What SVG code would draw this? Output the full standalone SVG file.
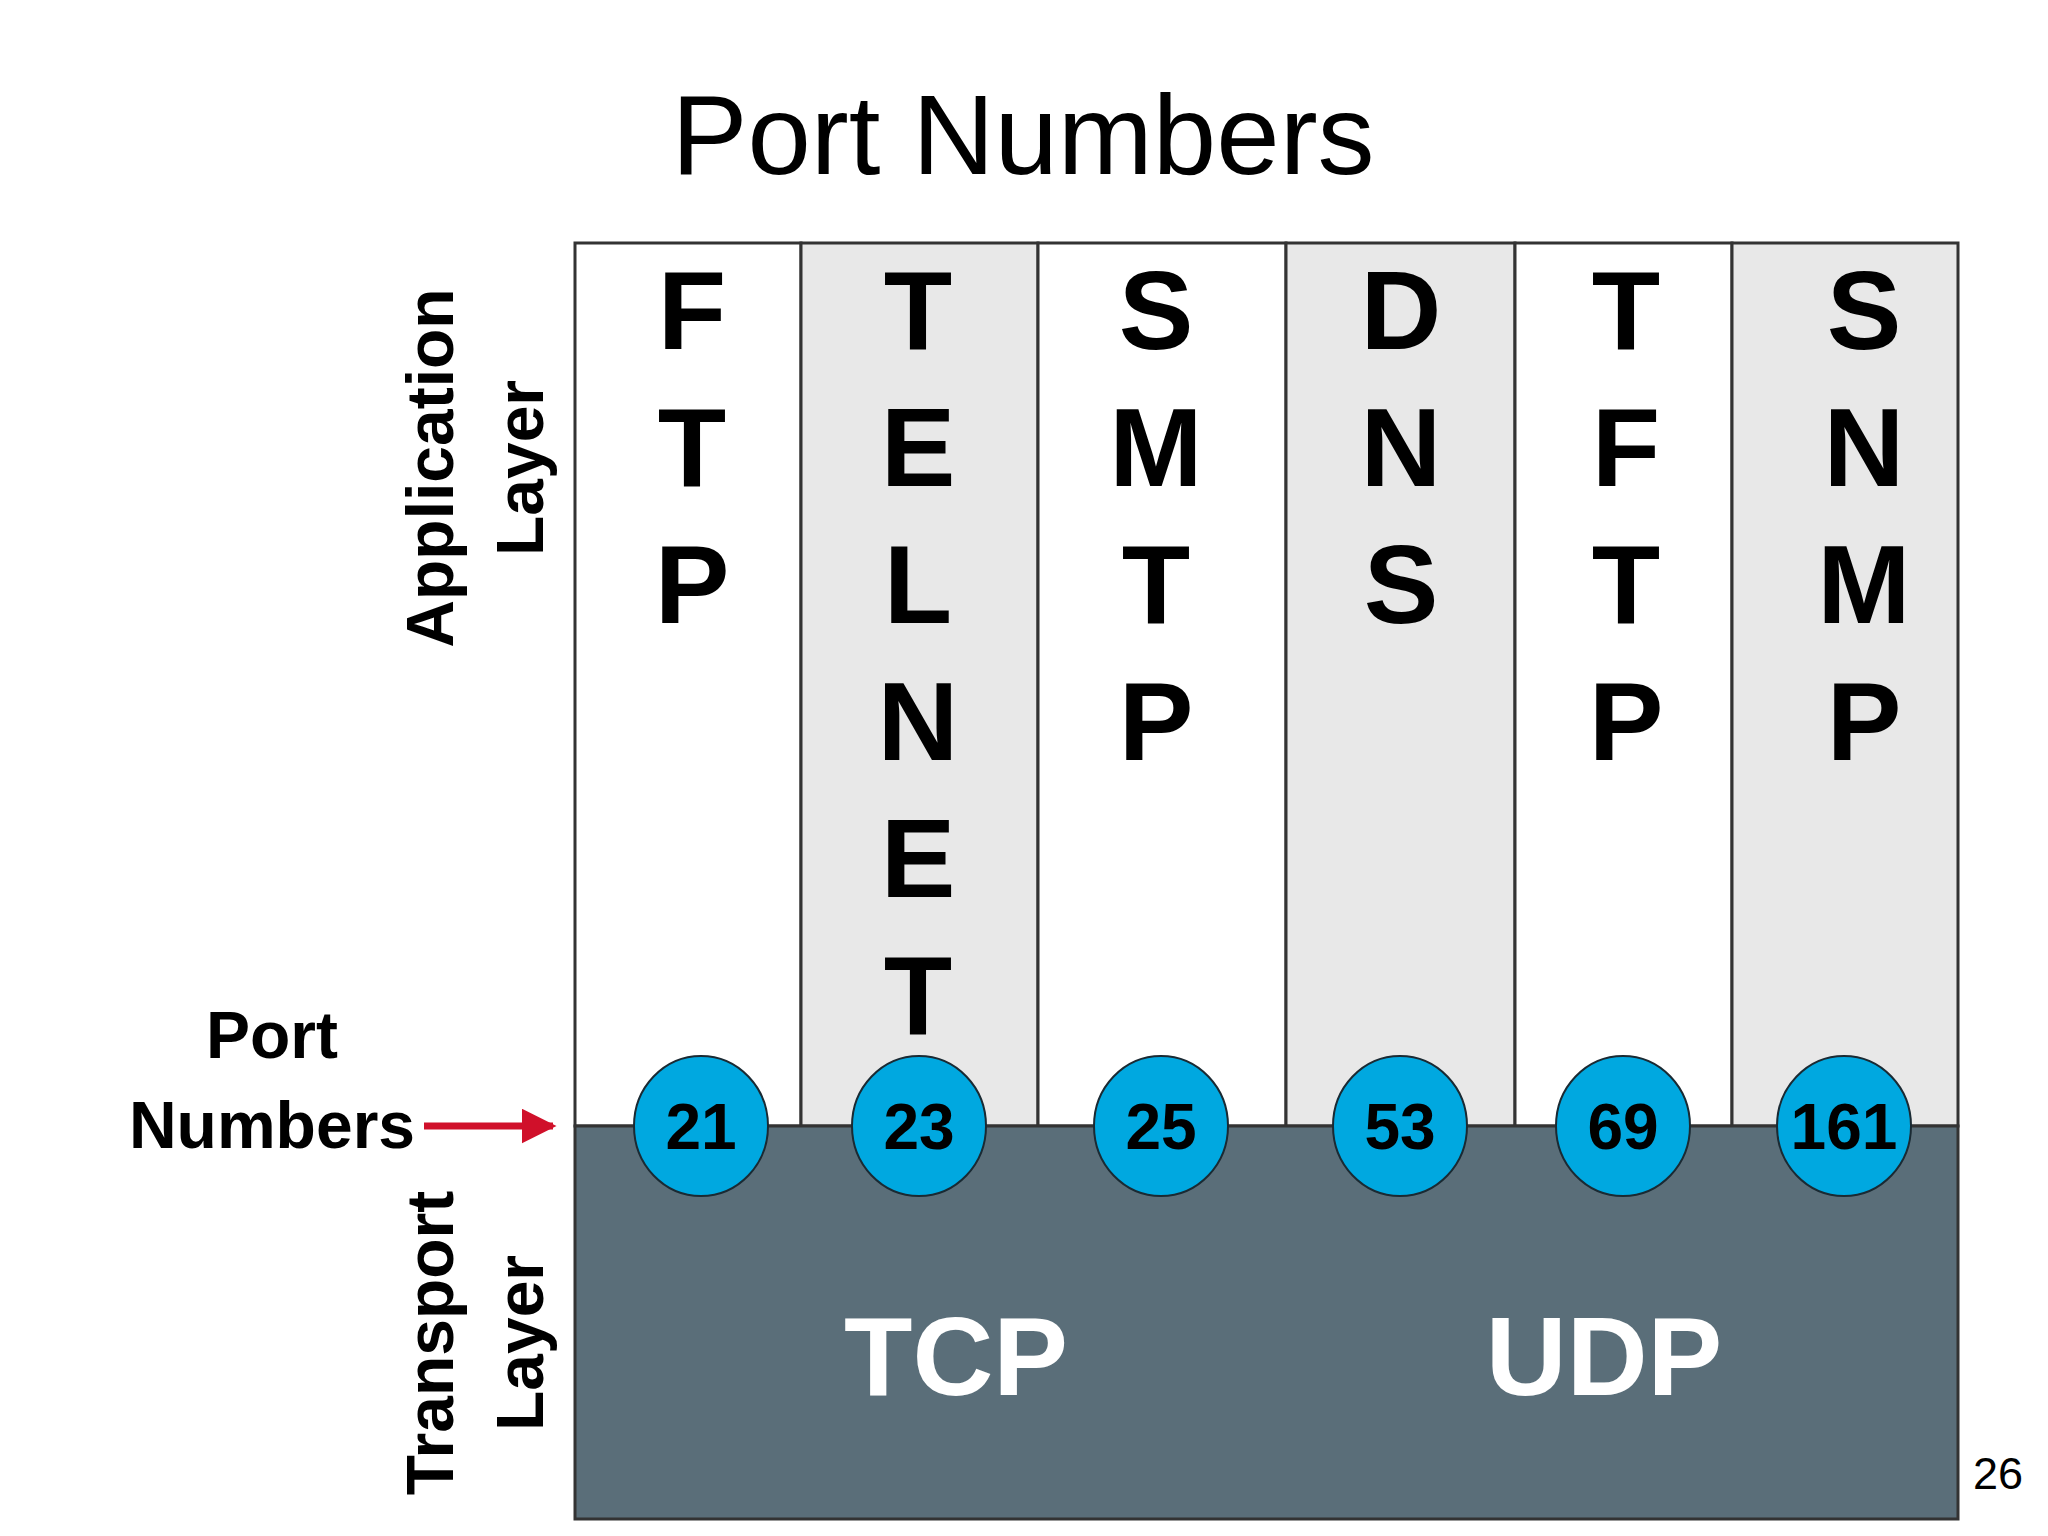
<svg xmlns="http://www.w3.org/2000/svg" width="2048" height="1536" viewBox="0 0 2048 1536">
<style>
.l{font-family:"Liberation Sans",Arial,sans-serif;font-weight:bold;font-size:112px;text-anchor:middle;fill:#000}
.n{font-family:"Liberation Sans",Arial,sans-serif;font-weight:bold;font-size:64px;text-anchor:middle;fill:#000}
.s{font-family:"Liberation Sans",Arial,sans-serif;font-weight:bold;font-size:66px;text-anchor:middle;fill:#000}
.c{fill:#00a8e0;stroke:#1a2a33;stroke-width:2}
.t{font-family:"Liberation Sans",Arial,sans-serif;font-weight:bold;font-size:112px;text-anchor:middle;fill:#fff}
</style>
<defs><marker id="ah" viewBox="0 0 10 10" refX="9" refY="5" markerWidth="5" markerHeight="5" orient="auto"><path d="M0,0 L10,5 L0,10 z" fill="#d0102a"/></marker></defs>
<rect width="2048" height="1536" fill="#fff"/>
<text x="1023" y="174" font-family="Liberation Sans,Arial,sans-serif" font-size="114" text-anchor="middle">Port Numbers</text>
<g id="columns" stroke="#333" stroke-width="3">
<rect x="575" y="243" width="226" height="883" fill="#fff"/>
<rect x="801" y="243" width="237" height="883" fill="#e8e8e8"/>
<rect x="1038" y="243" width="248" height="883" fill="#fff"/>
<rect x="1286" y="243" width="229" height="883" fill="#e8e8e8"/>
<rect x="1515" y="243" width="217" height="883" fill="#fff"/>
<rect x="1732" y="243" width="226" height="883" fill="#e8e8e8"/>
</g>
<g id="transport"><rect x="575" y="1126" width="1383" height="393" fill="#5a6e79" stroke="#333" stroke-width="3"/>
<text class="t" x="956" y="1395">TCP</text><text class="t" x="1604" y="1395">UDP</text></g>
<g id="letters">
<text class="l" x="692" y="349">F</text><text class="l" x="692" y="486">T</text><text class="l" x="692" y="623">P</text>
<text class="l" x="918" y="349">T</text><text class="l" x="918" y="486">E</text><text class="l" x="918" y="623">L</text><text class="l" x="918" y="760">N</text><text class="l" x="918" y="897">E</text><text class="l" x="918" y="1034">T</text>
<text class="l" x="1156" y="349">S</text><text class="l" x="1156" y="486">M</text><text class="l" x="1156" y="623">T</text><text class="l" x="1156" y="760">P</text>
<text class="l" x="1401" y="349">D</text><text class="l" x="1401" y="486">N</text><text class="l" x="1401" y="623">S</text>
<text class="l" x="1626" y="349">T</text><text class="l" x="1626" y="486">F</text><text class="l" x="1626" y="623">T</text><text class="l" x="1626" y="760">P</text>
<text class="l" x="1864" y="349">S</text><text class="l" x="1864" y="486">N</text><text class="l" x="1864" y="623">M</text><text class="l" x="1864" y="760">P</text>
</g>
<g id="ports">
<ellipse class="c" cx="701" cy="1126" rx="67" ry="70"/><text class="n" x="701" y="1149">21</text>
<ellipse class="c" cx="919" cy="1126" rx="67" ry="70"/><text class="n" x="919" y="1149">23</text>
<ellipse class="c" cx="1161" cy="1126" rx="67" ry="70"/><text class="n" x="1161" y="1149">25</text>
<ellipse class="c" cx="1400" cy="1126" rx="67" ry="70"/><text class="n" x="1400" y="1149">53</text>
<ellipse class="c" cx="1623" cy="1126" rx="67" ry="70"/><text class="n" x="1623" y="1149">69</text>
<ellipse class="c" cx="1844" cy="1126" rx="67" ry="70"/><text class="n" x="1844" y="1149">161</text>
</g>
<g id="labels">
<text class="s" transform="translate(453,468) rotate(-90)">Application</text>
<text class="s" transform="translate(543,468) rotate(-90)">Layer</text>
<text class="s" transform="translate(453,1343) rotate(-90)">Transport</text>
<text class="s" transform="translate(543,1343) rotate(-90)">Layer</text>
<text class="s" x="272" y="1058">Port</text>
<text class="s" x="272" y="1148">Numbers</text>
<text x="1998" y="1489" font-family="Liberation Sans,Arial,sans-serif" font-size="45" text-anchor="middle">26</text>
</g>
<g id="connectors"><line x1="424" y1="1126" x2="553" y2="1126" stroke="#d0102a" stroke-width="7" marker-end="url(#ah)"/></g>
</svg>
